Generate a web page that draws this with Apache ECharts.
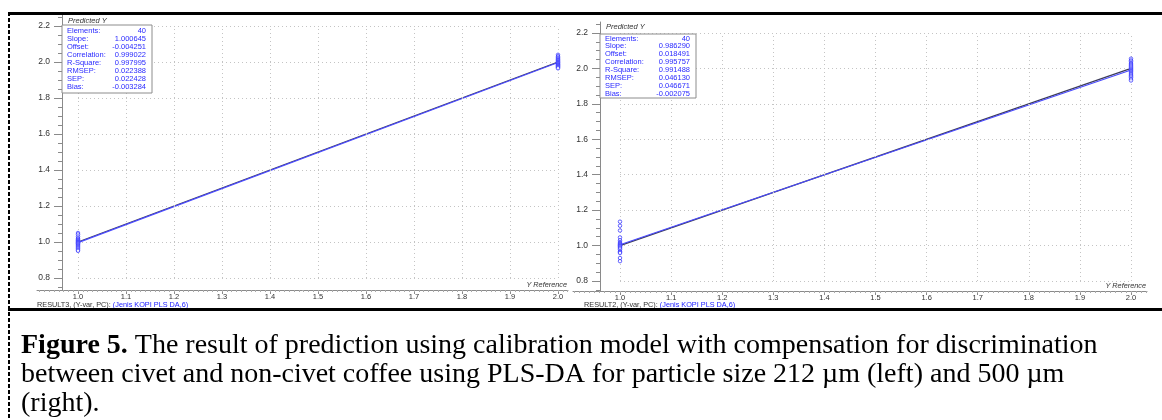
<!DOCTYPE html>
<html><head><meta charset="utf-8">
<script src="https://cdn.jsdelivr.net/npm/echarts@6/dist/echarts.min.js"></script>
<style>html,body{margin:0;padding:0;background:#fff}#c{width:1162px;height:420px}</style>
</head><body><div id="c"></div>
<script>
// ---------- data ----------
const xTicks = [1.0, 1.1, 1.2, 1.3, 1.4, 1.5, 1.6, 1.7, 1.8, 1.9, 2.0];
const yTicks = [0.8, 1.0, 1.2, 1.4, 1.6, 1.8, 2.0, 2.2];
const classRef = [1.0, 2.0];
// predicted Y for samples with reference 1 and 2 (212 um, left)
const leftPred1 = [1.05, 1.042, 1.03, 1.021, 1.015, 1.01, 1.006, 1.002, 0.999, 0.996, 0.993, 0.99, 0.986, 0.982, 0.977, 0.972, 0.967, 0.962, 0.956, 0.951];
const leftPred2 = [2.04, 2.032, 2.025, 2.02, 2.015, 2.011, 2.007, 2.003, 2.0, 1.997, 1.994, 1.99, 1.987, 1.984, 1.981, 1.978, 1.975, 1.972, 1.969, 1.965];
// predicted Y (500 um, right)
const rightPred1 = [1.135, 1.112, 1.085, 1.046, 1.03, 1.02, 1.014, 1.009, 1.005, 1.001, 0.998, 0.994, 0.99, 0.985, 0.978, 0.968, 0.963, 0.958, 0.93, 0.912];
const rightPred2 = [2.055, 2.045, 2.038, 2.03, 2.024, 2.018, 2.012, 2.006, 2.0, 1.995, 1.99, 1.985, 1.98, 1.974, 1.968, 1.961, 1.955, 1.948, 1.94, 1.932];
const targetLine = [[1.0, 1.0], [2.0, 2.0]];
const leftFitLine = [[1.0, 0.9964], [2.0, 1.9970]];
const rightFitLine = [[1.0, 1.0048], [2.0, 1.9911]];
const statLabels = ['Elements:', 'Slope:', 'Offset:', 'Correlation:', 'R-Square:', 'RMSEP:', 'SEP:', 'Bias:'];
const leftStats = ['40', '1.000645', '-0.004251', '0.999022', '0.997995', '0.022388', '0.022428', '-0.003284'];
const rightStats = ['40', '0.986290', '0.018491', '0.995757', '0.991488', '0.046130', '0.046671', '-0.002075'];
const leftTag = 'RESULT3, (Y-var, PC): ';
const rightTag = 'RESULT2, (Y-var, PC): ';
const modelTag = '(Jenis KOPI PLS DA,6)';
const yTitle = 'Predicted Y';
const xTitle = 'Y Reference';
const captionLines = [
  ['Figure 5.', ' The result of prediction using calibration model with compensation for discrimination'],
  ['', 'between civet and non-civet coffee using PLS-DA for particle size 212 \u00b5m (left) and 500 \u00b5m'],
  ['', '(right).']
];

// ---------- layout ----------
const L = {x1: 78, x2: 558, y08: 278, y22: 26, axL: 37, axR: 568, axY: 290, yAxX: 62, top: 15,
  box: {w: 90, h: 68, top: 25, row0: 31, step: 8.0}, title: 21, tagX: 37};
const R = {x1: 620, x2: 1131, y08: 281, y22: 33, axL: 573, axR: 1147, axY: 291, yAxX: 600, top: 22,
  box: {w: 96, h: 64, top: 34, row0: 38.5, step: 7.9}, title: 27, tagX: 584};

const SANS = '"Liberation Sans", Arial, sans-serif';
const SERIF = '"Liberation Serif", "Times New Roman", serif';
const BLUE = '#2a2aff';

function range(a, b, s) { const out = []; for (let v = a; v <= b + 1e-9; v += s) out.push(Math.round(v * 1000) / 1000); return out; }

const grids = [], xAxes = [], yAxes = [], series = [], graphics = [];

function panel(g, idx, p1, p2, fit, stats, tag) {
  const ppx = g.x2 - g.x1;
  const xmin = 1 - (g.x1 - g.axL) / ppx, xmax = 2 + (g.axR - g.x2) / ppx;
  const ppy = (g.y08 - g.y22) / 1.4;
  const ymin = 0.8 - (g.axY - g.y08) / ppy, ymax = 2.2 + (g.y22 - g.top) / ppy;
  grids.push({left: g.axL, top: g.top, width: g.axR - g.axL, height: g.axY - g.top, containLabel: false});
  const xMinor = range(Math.ceil(xmin * 100) / 100, xmax, 0.01);
  const yMinor = range(0.75, 2.25, 0.05).filter(v => v >= ymin && v <= ymax);
  const axc = '#8a8a8a';
  xAxes.push({gridIndex: idx, type: 'value', position: 'bottom', min: xmin, max: xmax,
    axisLine: {show: true, onZero: false, lineStyle: {color: axc, width: 1}},
    axisTick: {show: true, customValues: xTicks, length: 4, lineStyle: {color: axc}},
    axisLabel: {show: true, customValues: xTicks, formatter: v => v.toFixed(1), fontSize: 7.5, fontFamily: SANS, color: '#333', margin: 3},
    splitLine: {show: false}});
  xAxes.push({gridIndex: idx, type: 'value', position: 'bottom', min: xmin, max: xmax,
    axisLine: {show: false, onZero: false},
    axisTick: {show: true, customValues: xMinor, length: 2, lineStyle: {color: '#aaa'}},
    axisLabel: {show: false}, splitLine: {show: false}});
  const yOff = -(g.yAxX - g.axL);
  yAxes.push({gridIndex: idx, type: 'value', position: 'left', offset: yOff, min: ymin, max: ymax,
    axisLine: {show: true, onZero: false, lineStyle: {color: axc}},
    axisTick: {show: true, customValues: yTicks, length: 8, lineStyle: {color: axc}},
    axisLabel: {show: true, customValues: yTicks, formatter: v => v.toFixed(1), fontSize: 8.5, fontFamily: SANS, color: '#333', margin: 12},
    splitLine: {show: false}});
  yAxes.push({gridIndex: idx, type: 'value', position: 'left', offset: yOff, min: ymin, max: ymax,
    axisLine: {show: false, onZero: false},
    axisTick: {show: true, customValues: yMinor, length: 4, lineStyle: {color: axc}},
    axisLabel: {show: false}, splitLine: {show: false}});
  const xi = idx * 2, yi = idx * 2;
  const gridLines = xTicks.map(x => [{coord: [x, yTicks[0]]}, {coord: [x, yTicks[yTicks.length - 1]]}])
    .concat(yTicks.map(y => [{coord: [xTicks[0], y]}, {coord: [xTicks[xTicks.length - 1], y]}]));
  series.push({type: 'line', xAxisIndex: xi, yAxisIndex: yi, data: [], z: 1, silent: true,
    markLine: {silent: true, symbol: ['none', 'none'], label: {show: false}, animation: false,
      lineStyle: {color: '#c4c4c4', type: [1, 3], width: 1}, emphasis: {disabled: true}, data: gridLines}});
  series.push({type: 'line', xAxisIndex: xi, yAxisIndex: yi, data: targetLine, symbol: 'none', z: 3,
    lineStyle: {color: '#3c3c5a', width: 1.2}, silent: true});
  series.push({type: 'line', xAxisIndex: xi, yAxisIndex: yi, data: fit, symbol: 'none', z: 4,
    lineStyle: {color: '#4a4aff', width: 1.2}, silent: true});
  const pts = p1.map(v => [classRef[0], v]).concat(p2.map(v => [classRef[1], v]));
  series.push({type: 'scatter', xAxisIndex: xi, yAxisIndex: yi, data: pts, symbol: 'circle', symbolSize: 3.5, z: 5,
    itemStyle: {color: '#ffffff', borderColor: BLUE, borderWidth: 0.9}, silent: true});

  // stats box
  const bx = g.yAxX, b = g.box;
  graphics.push({type: 'rect', shape: {x: bx, y: b.top, width: b.w, height: b.h}, style: {fill: '#fff', stroke: '#8c8c8c', lineWidth: 1}, z: 50});
  statLabels.forEach((s, i) => {
    graphics.push({type: 'text', x: bx + 5, y: b.row0 + i * b.step, z: 51,
      style: {text: s, fill: BLUE, font: '7.5px ' + SANS, textVerticalAlign: 'middle', textAlign: 'left'}});
    graphics.push({type: 'text', x: bx + b.w - 6, y: b.row0 + i * b.step, z: 51,
      style: {text: stats[i], fill: BLUE, font: '7.5px ' + SANS, textVerticalAlign: 'middle', textAlign: 'right'}});
  });
  graphics.push({type: 'text', x: bx + 6, y: g.title, z: 51,
    style: {text: yTitle, fill: '#333', font: 'italic 7.5px ' + SANS, textVerticalAlign: 'middle'}});
  graphics.push({type: 'text', x: g.axR - 1, y: g.axY - 5, z: 51,
    style: {text: xTitle, fill: '#333', font: 'italic 7.3px ' + SANS, textVerticalAlign: 'middle', textAlign: 'right'}});
  graphics.push({type: 'text', x: g.tagX, y: 305, z: 51,
    style: {text: '{a|' + tag + '}{b|' + modelTag + '}', rich: {a: {fill: '#333', font: '7.3px ' + SANS}, b: {fill: '#2020ff', font: '7.3px ' + SANS}}, textVerticalAlign: 'middle'}});
}

panel(L, 0, leftPred1, leftPred2, leftFitLine, leftStats, leftTag);
panel(R, 1, rightPred1, rightPred2, rightFitLine, rightStats, rightTag);

// frame
graphics.push({type: 'rect', shape: {x: 8, y: 12, width: 1154, height: 3}, style: {fill: '#000'}, z: 60});
graphics.push({type: 'rect', shape: {x: 8, y: 308, width: 1154, height: 3}, style: {fill: '#000'}, z: 60});
graphics.push({type: 'line', shape: {x1: 9, y1: 12, x2: 9, y2: 420}, style: {stroke: '#000', lineWidth: 2, lineDash: [4, 2]}, z: 60});

// caption
captionLines.forEach((ln, i) => {
  graphics.push({type: 'text', x: 21, y: 346 + i * 29, z: 60,
    style: {text: (ln[0] ? '{b|' + ln[0] + '}' : '') + '{n|' + ln[1] + '}',
      rich: {b: {font: 'bold 28px ' + SERIF, fill: '#000'},
             n: {font: '28px ' + SERIF, fill: '#000'}},
      textVerticalAlign: 'middle'}});
});

const chart = echarts.init(document.getElementById('c'), null, {renderer: 'canvas'});
chart.setOption({animation: false, backgroundColor: '#fff', grid: grids, xAxis: xAxes, yAxis: yAxes, series: series, graphic: graphics});
</script></body></html>
